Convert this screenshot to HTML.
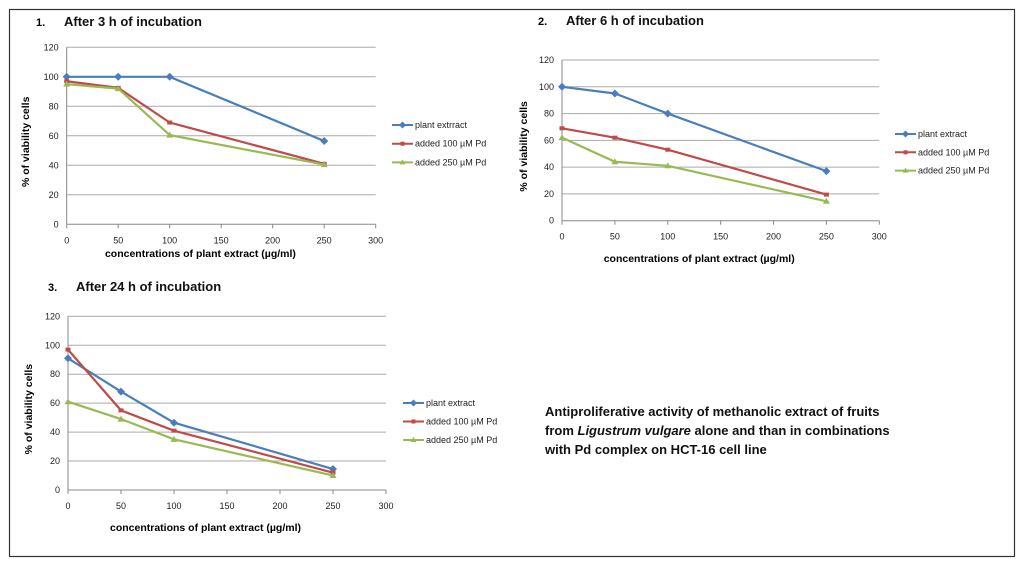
<!DOCTYPE html>
<html><head><meta charset="utf-8"><style>
body{margin:0;background:#fff;width:1024px;height:567px;overflow:hidden;font-family:"Liberation Sans",sans-serif}
svg text{font-family:"Liberation Sans",sans-serif}
</style></head><body>
<svg id="s" width="1024" height="567">
<rect x="9.5" y="9.5" width="1005" height="547" fill="#fff" stroke="#333" stroke-width="1.2"/>
<text x="545" y="416" font-size="13" font-weight="bold" fill="#111">
<tspan x="545" dy="0">Antiproliferative activity of methanolic extract of fruits</tspan>
<tspan x="545" dy="19">from <tspan font-style="italic">Ligustrum vulgare</tspan>  alone and than in combinations</tspan>
<tspan x="545" dy="19">with Pd complex on HCT-16 cell line</tspan></text>
</svg>
<script>
const xCats=[0,50,100,250];
const xTicks=[0,50,100,150,200,250,300];
const yTicks=[0,20,40,60,80,100,120];
const c1Plant=[100,100,100,56.5], c1Pd100=[97,92.5,69,41], c1Pd250=[95,92,60.5,40.5];
const c2Plant=[100,95,80,37], c2Pd100=[69,62,53,19.5], c2Pd250=[62,44,41,14.5];
const c3Plant=[91,68,46.5,14.5], c3Pd100=[97,55,41,12], c3Pd250=[61,49,35,10];
const seriesNames1=["plant extrract","added 100 µM Pd","added 250 µM Pd"];
const seriesNames=["plant extract","added 100 µM Pd","added 250 µM Pd"];
const colors=["#4a7ebb","#be4b48","#98b954"];
const NS="http://www.w3.org/2000/svg";
const svg=document.getElementById('s');
function mk(t,a,p){const e=document.createElementNS(NS,t);for(const k in a)e.setAttribute(k,a[k]);(p||svg).appendChild(e);return e;}
function chart(cfg,id){
 const g=mk('g',{});
 
 
 const X=v=>cfg.x0+(v/300)*(cfg.x1-cfg.x0);
 const Y=v=>cfg.y0-(v/120)*(cfg.y0-cfg.y1);
 const n=mk('text',{x:cfg.tx-28,y:cfg.ty,'font-size':11,'font-weight':'bold','font-family':'Liberation Serif'},g);n.textContent=id+'.';
 
 
 const t=mk('text',{x:cfg.tx,y:cfg.ty,'font-size':13,'font-weight':'bold',fill:'#111'},g);t.textContent=cfg.title;
 
 
 yTicks.forEach(v=>{
  const l=mk('line',{x1:X(0),x2:X(300),y1:Y(v),y2:Y(v),stroke:v===0?'#888':'#aaa','stroke-width':1},g);
  
  
  const tk=mk('text',{x:X(0)-8,y:Y(v)+3,'font-size':9,'text-anchor':'end',fill:'#222'},g);tk.textContent=v;
  
  
 });
 mk('line',{x1:X(0),x2:X(0),y1:Y(0),y2:Y(120),stroke:'#888'},g);
 xTicks.forEach(v=>{
  mk('line',{x1:X(v),x2:X(v),y1:Y(0),y2:Y(0)+4,stroke:'#888'},g);
  const tk=mk('text',{x:X(v),y:Y(0)+19,'font-size':9,'text-anchor':'middle',fill:'#222'},g);tk.textContent=v;
  
  
 });
 const xl=mk('text',{x:(X(0)+X(250))/2+5,y:cfg.xly,'font-size':10.5,'font-weight':'bold','text-anchor':'middle'},g);xl.textContent='concentrations of plant extract (µg/ml)';
 
 
 const yc=(Y(0)+Y(120))/2+6;
 const yl=mk('text',{x:cfg.ylx,y:yc,'font-size':10.5,'font-weight':'bold','text-anchor':'middle',transform:`rotate(-90 ${cfg.ylx} ${yc})`},g);yl.textContent='% of viability cells';
 
 
 cfg.data.forEach((d,i)=>{
  const pts=d.map((v,j)=>X(xCats[j])+','+Y(v)).join(' ');
  const pl=mk('polyline',{points:pts,fill:'none',stroke:colors[i],'stroke-width':2.2},g);
  
  
  d.forEach((v,j)=>{
   const cx=X(xCats[j]),cy=Y(v);let m;
   if(i===0)m=mk('polygon',{points:`${cx},${cy-4} ${cx+4},${cy} ${cx},${cy+4} ${cx-4},${cy}`,fill:colors[0]},g);
   else if(i===1)m=mk('rect',{x:cx-2.5,y:cy-2,width:5,height:4,fill:colors[1]},g);
   else m=mk('polygon',{points:`${cx},${cy-3.5} ${cx+3.5},${cy+2.5} ${cx-3.5},${cy+2.5}`,fill:colors[2]},g);
   
   
  });
 });
 cfg.names.forEach((nm,i)=>{
  const ly=cfg.ly+i*cfg.lgap;
  const lg=mk('g',{},g);
  
  
  mk('line',{x1:cfg.lx,x2:cfg.lx+21,y1:ly,y2:ly,stroke:colors[i],'stroke-width':2},lg);
  const cx=cfg.lx+10.5;
  if(i===0)mk('polygon',{points:`${cx},${ly-3.5} ${cx+3.5},${ly} ${cx},${ly+3.5} ${cx-3.5},${ly}`,fill:colors[0]},lg);
  else if(i===1)mk('rect',{x:cx-2,y:ly-2,width:4,height:4,fill:colors[1]},lg);
  else mk('polygon',{points:`${cx},${ly-3} ${cx+3},${ly+2} ${cx-3},${ly+2}`,fill:colors[2]},lg);
  const tx=mk('text',{x:cfg.lx+23,y:ly+3,'font-size':9,fill:'#222'},lg);tx.textContent=nm;
 });
}
chart({x0:66.7,x1:375.7,y0:224.3,y1:47.3,tx:64,ty:26,title:'After 3 h of incubation',xly:257,ylx:29,lx:392,ly:125,lgap:18.7,names:seriesNames1,data:[c1Plant,c1Pd100,c1Pd250]},1);
chart({x0:562,x1:879.3,y0:220.7,y1:60,tx:566,ty:25,title:'After 6 h of incubation',xly:262,ylx:527,lx:895,ly:134,lgap:18.3,names:seriesNames,data:[c2Plant,c2Pd100,c2Pd250]},2);
chart({x0:68,x1:386,y0:490,y1:316.3,tx:76,ty:291,title:'After 24 h of incubation',xly:531,ylx:32,lx:403,ly:403,lgap:18.5,names:seriesNames,data:[c3Plant,c3Pd100,c3Pd250]},3);
</script>
</body></html>
